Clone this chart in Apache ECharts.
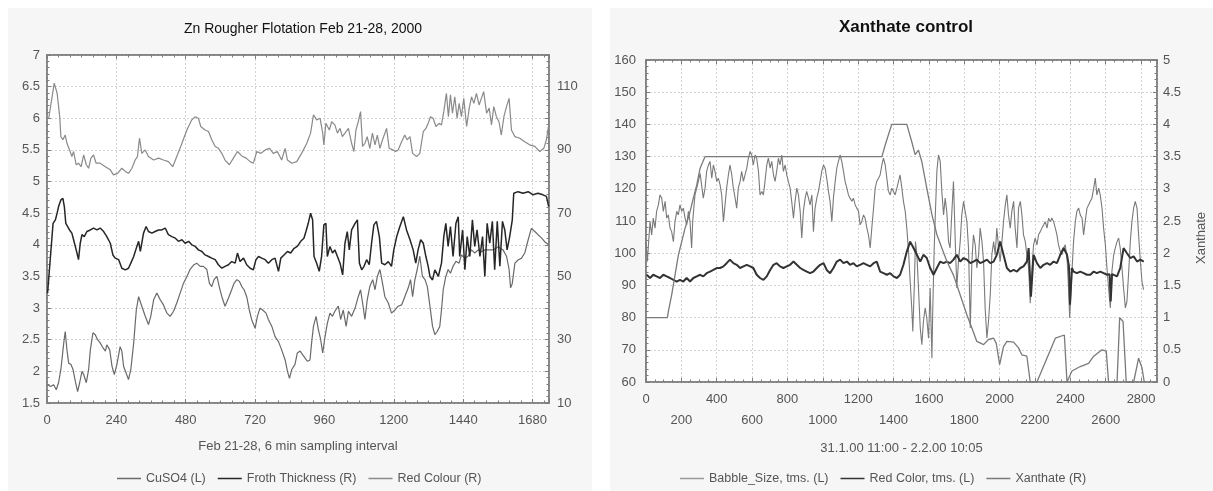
<!DOCTYPE html>
<html><head><meta charset="utf-8">
<script src="https://cdn.jsdelivr.net/npm/echarts@6/dist/echarts.min.js"></script>
<style>html,body{margin:0;padding:0;background:#fff}#c{width:1213px;height:491px}</style>
</head><body><div id="c"></div>
<script>
// ---------- texts ----------
const leftTitle = 'Zn Rougher Flotation Feb 21-28, 2000';
const rightTitle = 'Xanthate control';
const leftXName = 'Feb 21-28, 6 min sampling interval';
const rightXName = '31.1.00 11:00 - 2.2.00 10:05';
const rightYName = 'Xanthate';
const leftNames = ['CuSO4 (L)', 'Froth Thickness (R)', 'Red Colour (R)'];
const rightNames = ['Babble_Size, tms. (L)', 'Red Color, tms. (L)', 'Xanthate (R)'];

// ---------- left chart data: [sample, value] ----------
const cuso4L = [[2,1.79],[12,1.76],[23,1.79],[32,1.71],[40,1.82],[48,2.03],[58,2.45],[63,2.63],[69,2.34],[75,2.13],[83,2.11],[90,2.03],[98,1.84],[106,1.68],[113,1.82],[121,2.00],[127,1.95],[136,1.82],[144,2.03],[150,2.34],[159,2.61],[167,2.58],[175,2.50],[184,2.45],[194,2.37],[202,2.32],[207,2.42],[217,2.34],[225,2.08],[233,1.95],[242,2.11],[253,2.39],[259,2.32],[265,2.08],[274,1.97],[282,1.87],[290,2.03],[300,2.45],[309,2.97],[317,3.18],[328,3.03],[340,2.87],[351,2.74],[359,2.87],[369,3.13],[380,3.24],[392,3.13],[403,3.05],[415,2.92],[426,2.87],[438,2.95],[449,3.08],[461,3.24],[472,3.39],[484,3.50],[495,3.61],[507,3.68],[518,3.71],[530,3.66],[541,3.66],[553,3.61],[562,3.39],[570,3.34],[578,3.45],[588,3.50],[597,3.32],[605,3.18],[616,3.03],[628,3.16],[639,3.29],[647,3.39],[657,3.45],[666,3.42],[674,3.34],[682,3.29],[691,3.18],[700,2.97],[708,2.82],[720,2.68],[728,2.87],[737,3.00],[746,2.97],[758,2.92],[766,2.82],[778,2.71],[789,2.55],[801,2.47],[812,2.34],[824,2.18],[832,2.00],[839,1.89],[847,2.03],[858,2.11],[866,2.29],[876,2.32],[885,2.26],[893,2.21],[901,2.16],[910,2.18],[916,2.47],[922,2.71],[931,2.87],[939,2.66],[947,2.50],[954,2.29],[962,2.55],[970,2.76],[979,2.92],[988,2.87],[996,2.95],[1008,3.03],[1016,2.82],[1025,2.97],[1035,2.71],[1043,2.95],[1054,2.87],[1066,3.00],[1077,3.18],[1085,3.29],[1092,3.08],[1100,2.82],[1108,3.13],[1117,3.34],[1127,3.45],[1135,3.29],[1143,3.50],[1152,3.61],[1161,3.39],[1169,3.18],[1181,3.08],[1192,2.92],[1204,2.97],[1215,3.03],[1227,3.05],[1238,3.18],[1250,3.32],[1258,3.45],[1265,3.18],[1273,3.45],[1281,3.61],[1290,3.82],[1299,3.50],[1308,3.45],[1316,3.34],[1325,3.03],[1334,2.71],[1342,2.58],[1350,2.63],[1359,2.71],[1365,2.97],[1371,3.29],[1380,3.50],[1388,3.61],[1396,3.55],[1405,3.66],[1415,3.74],[1426,3.71],[1434,3.84],[1446,3.79],[1457,3.82],[1469,3.92],[1480,3.87],[1492,3.92],[1503,3.89],[1515,3.92],[1526,3.92],[1544,3.92],[1561,3.97],[1578,3.92],[1590,3.82],[1599,3.61],[1604,3.32],[1610,3.39],[1619,3.71],[1630,3.76],[1642,3.79],[1653,3.87],[1665,4.08],[1676,4.26],[1688,4.21],[1699,4.16],[1711,4.11],[1722,4.05],[1736,4.00]];

const frothR = [[2,44.7],[21,66.8],[29,67.9],[35,70.0],[40,72.1],[48,74.2],[55,74.7],[60,72.1],[65,66.8],[71,66.3],[78,64.7],[86,63.7],[92,61.6],[101,58.4],[109,55.3],[115,60.5],[121,63.2],[129,62.6],[138,64.2],[150,64.7],[161,65.3],[173,64.7],[184,65.3],[196,64.2],[207,62.6],[219,60.5],[228,56.8],[236,55.8],[248,55.3],[259,52.6],[271,52.1],[282,52.6],[290,54.2],[300,56.3],[311,59.5],[317,61.1],[323,57.9],[334,63.7],[343,65.8],[351,64.2],[363,63.7],[374,64.2],[386,64.7],[397,64.7],[409,65.3],[420,63.2],[432,62.6],[444,62.1],[455,61.1],[467,61.6],[478,60.5],[490,61.1],[501,60.0],[513,59.5],[524,58.4],[536,57.9],[547,56.8],[559,56.3],[570,55.8],[582,55.3],[593,53.7],[605,52.6],[616,53.2],[628,53.7],[639,54.7],[651,54.2],[659,57.4],[668,54.7],[680,55.8],[691,53.7],[703,52.6],[714,52.1],[723,55.3],[732,56.3],[743,55.8],[755,55.3],[766,54.2],[778,55.3],[789,55.8],[801,51.6],[809,55.8],[820,56.8],[832,57.9],[843,57.4],[855,58.9],[866,59.5],[878,61.1],[889,62.1],[896,64.2],[904,66.8],[912,70.0],[919,67.9],[924,56.3],[933,54.2],[942,51.6],[950,56.3],[958,66.3],[965,66.8],[970,56.3],[979,59.5],[988,57.4],[996,58.4],[1005,56.3],[1014,54.2],[1023,50.5],[1031,60.5],[1039,64.2],[1046,58.4],[1054,64.7],[1066,66.8],[1074,67.9],[1081,54.2],[1089,52.1],[1097,53.2],[1106,55.3],[1115,53.7],[1123,60.5],[1131,66.3],[1140,67.4],[1150,62.6],[1158,54.2],[1169,53.7],[1181,54.7],[1192,53.2],[1200,58.4],[1210,62.6],[1221,65.8],[1233,68.9],[1244,64.7],[1256,61.6],[1267,58.4],[1276,54.2],[1284,58.4],[1293,61.6],[1302,60.5],[1311,56.3],[1319,53.2],[1325,50.0],[1334,48.9],[1342,52.1],[1354,50.0],[1365,54.2],[1373,62.6],[1380,66.8],[1388,59.5],[1396,65.8],[1405,56.3],[1415,66.8],[1423,68.9],[1428,56.3],[1438,64.7],[1446,52.1],[1454,62.6],[1463,56.3],[1472,67.9],[1480,59.5],[1488,64.7],[1498,56.3],[1507,62.6],[1515,50.0],[1523,66.8],[1532,60.5],[1541,67.4],[1549,52.1],[1558,67.4],[1567,53.2],[1576,67.4],[1584,64.7],[1592,58.4],[1601,62.6],[1610,67.9],[1615,76.3],[1630,76.8],[1647,76.3],[1665,76.8],[1682,75.8],[1699,76.3],[1716,75.8],[1728,75.3],[1736,72.1]];

const redColourR = [[6,100.0],[25,111.1],[35,107.9],[44,100.5],[48,94.2],[55,93.2],[63,94.7],[69,92.1],[78,90.0],[86,87.9],[92,89.5],[101,85.3],[109,85.8],[118,84.7],[127,88.4],[136,85.3],[144,84.2],[152,87.4],[161,88.4],[170,85.8],[184,85.8],[202,84.7],[219,83.7],[230,82.1],[244,82.6],[259,84.2],[271,83.2],[282,82.6],[294,84.2],[305,86.8],[313,87.9],[320,93.7],[328,88.9],[340,90.0],[351,87.9],[369,86.8],[386,87.4],[403,86.8],[420,86.3],[435,84.7],[449,87.9],[467,92.1],[484,96.3],[501,99.5],[513,100.5],[524,100.0],[532,97.4],[547,96.3],[559,95.8],[570,93.2],[582,91.1],[593,90.5],[605,88.9],[616,86.8],[631,85.3],[645,87.4],[659,89.5],[674,88.1],[689,87.4],[703,86.3],[714,85.8],[726,89.5],[740,88.9],[755,90.0],[770,90.5],[783,88.9],[797,89.5],[812,86.8],[824,90.5],[832,86.8],[847,85.8],[864,86.3],[881,88.9],[899,92.1],[912,95.3],[922,101.1],[933,99.5],[945,100.0],[954,95.3],[958,91.6],[965,98.4],[977,96.3],[985,98.9],[996,97.9],[1005,95.3],[1014,96.8],[1022,94.2],[1031,95.3],[1043,96.8],[1054,92.1],[1062,89.5],[1069,96.3],[1077,98.9],[1085,102.1],[1092,91.1],[1100,92.1],[1108,94.2],[1117,90.5],[1126,95.3],[1135,91.6],[1143,94.7],[1152,90.5],[1161,93.2],[1175,96.8],[1184,90.5],[1196,90.0],[1207,89.5],[1215,90.0],[1227,92.6],[1238,94.7],[1246,93.2],[1256,94.2],[1265,88.9],[1279,87.9],[1290,88.9],[1302,95.8],[1311,96.8],[1319,98.4],[1327,100.5],[1336,100.0],[1346,97.4],[1357,98.4],[1365,97.9],[1373,102.1],[1382,107.9],[1389,100.5],[1396,107.4],[1403,101.6],[1411,106.8],[1419,100.0],[1426,104.7],[1434,100.5],[1442,106.3],[1452,97.4],[1461,103.2],[1469,106.8],[1477,104.7],[1486,107.9],[1495,104.2],[1503,106.3],[1511,108.4],[1521,101.6],[1530,103.2],[1538,97.9],[1546,103.7],[1555,100.5],[1564,98.9],[1572,94.7],[1581,100.5],[1590,103.7],[1599,106.3],[1607,96.3],[1619,94.2],[1636,93.7],[1653,92.6],[1670,91.6],[1688,91.1],[1705,89.5],[1719,90.5],[1728,93.2],[1736,97.9]];

// ---------- right chart data: [sample, value] ----------
const bubbleL = [[0,103.6],[8,97.4],[15,103.6],[23,109.8],[32,105.7],[41,110.9],[51,107.8],[60,113.0],[70,115.0],[79,118.1],[89,117.1],[98,113.0],[108,116.1],[117,110.9],[126,111.9],[136,107.8],[145,106.7],[155,103.6],[164,109.8],[174,113.0],[183,111.9],[192,115.0],[202,113.0],[211,114.0],[221,110.9],[230,108.8],[240,113.0],[249,109.8],[258,101.6],[264,109.8],[272,115.0],[277,118.1],[287,120.2],[296,122.3],[306,124.8],[315,124.3],[324,117.1],[334,120.2],[343,125.4],[353,127.4],[362,128.5],[372,123.3],[381,127.4],[390,125.4],[400,122.3],[409,123.3],[419,121.2],[428,118.1],[438,109.8],[447,115.0],[456,120.2],[466,124.3],[475,127.4],[485,124.3],[494,120.2],[504,117.1],[513,114.0],[522,120.2],[532,122.3],[541,125.4],[551,122.3],[560,124.3],[570,126.4],[579,129.5],[589,131.6],[598,130.5],[607,127.4],[617,130.5],[626,129.5],[636,125.4],[645,118.1],[655,119.2],[664,118.1],[673,122.3],[683,127.4],[692,129.5],[702,126.4],[711,128.5],[721,124.3],[730,122.3],[739,125.4],[749,129.5],[758,127.4],[768,130.5],[777,125.4],[787,127.4],[796,124.3],[805,122.3],[815,120.2],[824,116.1],[834,110.9],[843,116.1],[853,120.2],[862,118.1],[872,113.0],[881,104.7],[890,113.0],[900,117.1],[909,119.2],[919,117.1],[928,115.0],[938,118.1],[947,106.7],[956,114.0],[966,117.1],[975,119.2],[985,122.3],[994,125.4],[1004,127.4],[1013,126.4],[1022,123.3],[1032,119.2],[1041,116.1],[1051,109.8],[1060,117.1],[1070,122.3],[1079,126.4],[1088,128.5],[1098,130.5],[1107,128.5],[1117,125.4],[1126,122.3],[1136,120.2],[1145,118.1],[1154,117.1],[1164,116.1],[1173,117.1],[1183,115.0],[1192,114.0],[1202,113.0],[1211,108.8],[1220,109.8],[1230,111.9],[1239,110.9],[1249,107.8],[1258,105.7],[1268,101.6],[1277,107.8],[1287,114.0],[1296,120.2],[1305,122.3],[1315,123.3],[1324,124.3],[1334,127.4],[1343,129.5],[1353,127.4],[1362,123.3],[1371,119.2],[1381,118.1],[1390,120.2],[1400,119.2],[1409,118.1],[1419,120.2],[1428,122.3],[1437,124.3],[1447,120.2],[1456,116.1],[1466,113.0],[1475,107.8],[1485,100.5],[1494,91.2],[1503,83.0],[1509,75.7],[1517,89.2],[1524,103.6],[1532,99.5],[1541,89.2],[1551,76.8],[1560,71.6],[1569,78.8],[1579,83.0],[1588,79.8],[1598,73.6],[1607,89.2],[1617,67.4],[1622,83.0],[1630,101.6],[1637,113.0],[1645,125.4],[1654,130.5],[1664,128.5],[1673,119.2],[1683,111.9],[1692,117.1],[1701,113.0],[1711,103.6],[1720,101.6],[1730,113.0],[1739,122.3],[1749,103.6],[1758,89.2],[1767,97.4],[1777,103.6],[1786,111.9],[1796,116.1],[1805,113.0],[1815,109.8],[1824,101.6],[1834,76.8],[1843,97.4],[1852,105.7],[1862,102.6],[1871,95.4],[1881,99.5],[1890,107.8],[1900,103.6],[1909,97.4],[1918,83.0],[1928,73.7],[1937,78.8],[1947,87.1],[1956,99.5],[1966,103.6],[1975,99.5],[1984,107.8],[1994,101.6],[2003,97.4],[2013,103.6],[2022,109.8],[2032,115.0],[2041,118.1],[2050,111.9],[2060,107.8],[2069,113.0],[2079,116.1],[2088,107.8],[2098,101.6],[2107,114.0],[2117,116.1],[2126,111.9],[2135,105.7],[2145,103.6],[2154,99.5],[2164,95.4],[2173,84.5],[2183,95.4],[2192,102.6],[2201,104.7],[2211,102.6],[2220,105.7],[2230,106.7],[2239,107.8],[2249,108.8],[2258,109.8],[2268,107.8],[2277,110.9],[2286,109.8],[2296,110.9],[2305,109.8],[2315,107.8],[2324,105.7],[2333,102.6],[2343,100.5],[2352,99.5],[2362,101.6],[2371,102.6],[2381,98.5],[2390,89.2],[2396,79.9],[2409,94.3],[2418,103.6],[2428,109.8],[2437,113.0],[2447,114.0],[2456,111.9],[2466,110.9],[2475,105.7],[2484,109.8],[2494,114.0],[2503,115.0],[2513,116.1],[2522,117.1],[2532,120.2],[2541,123.3],[2550,118.1],[2560,120.2],[2569,118.1],[2579,114.0],[2588,107.8],[2598,102.6],[2607,95.4],[2616,89.2],[2626,83.0],[2635,94.3],[2645,99.5],[2654,101.6],[2664,103.6],[2673,104.7],[2682,101.6],[2692,95.4],[2701,89.2],[2711,83.0],[2720,85.0],[2730,94.3],[2739,103.6],[2748,109.8],[2758,114.0],[2767,116.1],[2777,114.0],[2786,105.7],[2796,97.4],[2805,91.2],[2814,88.7]];

const redColorL = [[4,93.3],[23,92.3],[41,93.3],[60,92.8],[79,92.3],[98,93.3],[117,92.8],[136,92.3],[155,91.7],[174,91.2],[192,91.7],[211,91.2],[230,92.3],[249,91.2],[268,92.3],[287,92.8],[306,93.3],[324,92.8],[343,93.8],[362,94.3],[381,94.8],[400,95.4],[419,95.4],[438,95.9],[456,96.9],[475,98.0],[494,96.9],[513,96.4],[532,95.4],[551,95.9],[570,96.4],[589,95.9],[607,95.4],[626,93.3],[645,92.3],[664,91.7],[683,92.8],[702,94.8],[721,96.4],[739,96.9],[758,95.9],[777,95.4],[796,95.9],[815,96.4],[834,97.4],[853,96.4],[872,95.4],[890,94.8],[909,94.3],[928,93.8],[947,94.3],[966,95.4],[985,96.4],[1004,96.9],[1022,94.8],[1041,93.8],[1060,95.4],[1079,97.4],[1098,98.0],[1117,96.9],[1136,97.4],[1154,96.4],[1173,96.9],[1192,95.9],[1211,96.4],[1230,96.9],[1249,96.4],[1268,95.9],[1287,96.9],[1305,97.4],[1324,94.3],[1343,93.8],[1362,93.3],[1381,93.8],[1400,92.8],[1419,92.3],[1437,93.3],[1456,96.4],[1475,100.5],[1494,103.6],[1513,101.6],[1532,99.5],[1551,97.4],[1569,99.5],[1588,98.5],[1607,95.4],[1626,93.3],[1645,95.4],[1664,97.4],[1683,96.9],[1701,97.4],[1720,96.9],[1739,98.0],[1758,99.5],[1777,97.4],[1796,98.5],[1815,98.0],[1834,96.9],[1852,97.4],[1871,98.0],[1890,96.9],[1909,97.4],[1928,98.0],[1947,96.9],[1966,97.4],[1984,99.5],[2003,103.6],[2022,99.5],[2041,95.4],[2060,94.3],[2079,94.8],[2098,94.3],[2117,95.4],[2135,95.9],[2154,97.4],[2164,101.6],[2177,86.5],[2192,99.5],[2211,96.9],[2230,95.4],[2249,96.4],[2268,96.9],[2286,96.4],[2305,97.4],[2324,96.9],[2343,99.5],[2362,101.6],[2381,99.5],[2392,96.0],[2398,84.0],[2409,95.4],[2418,94.3],[2437,93.8],[2456,94.3],[2475,93.8],[2494,93.3],[2513,93.3],[2532,94.3],[2550,93.8],[2569,94.3],[2588,93.8],[2607,93.3],[2622,93.5],[2628,85.0],[2636,93.5],[2645,93.3],[2664,92.8],[2682,95.4],[2701,101.6],[2720,100.0],[2739,98.5],[2758,99.0],[2777,97.4],[2796,98.0],[2815,97.4]];

const xanthateR = [[0,1.0],[121,1.0],[126,1.09],[145,1.35],[164,1.66],[183,1.97],[202,2.18],[221,2.39],[245,2.60],[268,2.86],[287,3.06],[306,3.32],[334,3.5],[1334,3.5],[1353,3.68],[1371,3.84],[1390,4.0],[1475,4.0],[1503,3.73],[1522,3.53],[1541,3.60],[1560,3.42],[1588,3.01],[1617,2.60],[1645,2.29],[1673,2.08],[1702,1.87],[1739,1.66],[1777,1.35],[1815,1.04],[1843,0.84],[1871,0.63],[1909,0.58],[1937,0.66],[1966,0.68],[1981,0.60],[2000,0.27],[2022,0.55],[2041,0.63],[2079,0.62],[2107,0.53],[2126,0.42],[2154,0.40],[2173,0.0],[2211,0.0],[2315,0.68],[2366,0.73],[2381,0.0],[2409,0.17],[2456,0.24],[2503,0.29],[2532,0.40],[2579,0.50],[2603,0.48],[2616,0.0],[2664,0.0],[2679,1.0],[2698,0.94],[2716,0.0],[2758,0.0],[2786,0.37],[2805,0.22],[2818,0.0]];

// ---------- styling helpers ----------
const FONT = '"Liberation Sans", Arial, sans-serif';
const AX = '#7d7d7d';
const LBL = { color: '#555', fontSize: 13, fontFamily: FONT };

function axis(base) {
  const a = {
    type: 'value',
    axisLine: { show: true, onZero: false, lineStyle: { color: AX, width: 1.5 } },
    axisTick: { show: true, inside: true, length: 4, lineStyle: { color: AX, width: 1 } },
    minorTick: { show: true, inside: true, splitNumber: base.minor || 5, length: 2.5, lineStyle: { color: AX, width: 1 } },
    splitLine: { show: !!base.split, lineStyle: { color: '#d2d2d2', width: 1, type: [2, 2] } },
    axisLabel: Object.assign({ show: base.label !== false, margin: base.margin || 8 }, LBL, base.labelExtra || {})
  };
  delete base.minor; delete base.split; delete base.label; delete base.margin; delete base.labelExtra;
  return Object.assign(a, base);
}

const legendBase = { itemWidth: 24, itemHeight: 1.5, itemGap: 12, icon: 'rect', selectedMode: false,
  textStyle: { color: '#555', fontSize: 12.5, fontFamily: FONT } };

const option = {
  animation: false,
  backgroundColor: '#ffffff',
  graphic: [
    { type: 'rect', z: -100, silent: true, shape: { x: 8, y: 8, width: 584, height: 483 }, style: { fill: '#f6f6f6' } },
    { type: 'rect', z: -100, silent: true, shape: { x: 610, y: 8, width: 603, height: 483 }, style: { fill: '#f6f6f6' } }
  ],
  title: [
    { text: leftTitle, left: 298, top: 17, textAlign: 'center',
      textStyle: { fontSize: 14, fontWeight: 'normal', color: '#111', fontFamily: FONT } },
    { text: rightTitle, left: 901, top: 14, textAlign: 'center',
      textStyle: { fontSize: 17, fontWeight: 'bold', color: '#111', fontFamily: FONT } }
  ],
  legend: [
    Object.assign({ data: leftNames, left: 112, top: 467 }, legendBase),
    Object.assign({ data: rightNames, left: 675, top: 467 }, legendBase)
  ],
  grid: [
    { left: 47, top: 55, width: 502, height: 348, show: true, backgroundColor: '#fff', borderColor: AX, borderWidth: 1.5 },
    { left: 646, top: 60, width: 511, height: 322, show: true, backgroundColor: '#fff', borderColor: AX, borderWidth: 1.5 }
  ],
  xAxis: [
    axis({ gridIndex: 0, position: 'bottom', min: 0, max: 1737, interval: 240, minor: 6, split: true, margin: 11,
      name: leftXName, nameLocation: 'middle', nameGap: 37, nameTextStyle: LBL,
      labelExtra: { formatter: v => (v % 240 === 0 ? String(v) : '') } }),
    axis({ gridIndex: 0, position: 'top', min: 0, max: 1737, interval: 240, minor: 6, label: false }),
    axis({ gridIndex: 1, position: 'bottom', min: 0, max: 2890, interval: 200, minor: 4, split: true, margin: 7,
      name: rightXName, nameLocation: 'middle', nameGap: 60, nameTextStyle: LBL,
      labelExtra: { lineHeight: 21, formatter: v => (v % 200 !== 0 ? '' : (v % 400 === 0 ? String(v) : '\n' + v)) } }),
    axis({ gridIndex: 1, position: 'top', min: 0, max: 2890, interval: 200, minor: 4, label: false })
  ],
  yAxis: [
    axis({ gridIndex: 0, position: 'left', min: 1.5, max: 7, interval: 0.5, minor: 5, split: true, margin: 7 }),
    axis({ gridIndex: 0, position: 'right', min: 10, max: 120, interval: 10, minor: 5, margin: 8,
      labelExtra: { formatter: v => ((v - 10) % 20 === 0 && v < 120 ? String(v) : '') } }),
    axis({ gridIndex: 1, position: 'left', min: 60, max: 160, interval: 10, minor: 5, split: true, margin: 10 }),
    axis({ gridIndex: 1, position: 'right', min: 0, max: 5, interval: 0.5, minor: 5, margin: 6,
      name: rightYName, nameLocation: 'middle', nameGap: 38,
      nameTextStyle: Object.assign({ padding: [0, 34, 0, 0] }, LBL) })
  ],
  series: [
    { name: leftNames[2], type: 'line', xAxisIndex: 0, yAxisIndex: 1, data: redColourR, symbol: 'none',
      lineStyle: { color: '#8a8a8a', width: 1.2 }, itemStyle: { color: '#8a8a8a' } },
    { name: leftNames[0], type: 'line', xAxisIndex: 0, yAxisIndex: 0, data: cuso4L, symbol: 'none',
      lineStyle: { color: '#6a6a6a', width: 1.2 }, itemStyle: { color: '#6a6a6a' } },
    { name: leftNames[1], type: 'line', xAxisIndex: 0, yAxisIndex: 1, data: frothR, symbol: 'none',
      lineStyle: { color: '#262626', width: 1.5 }, itemStyle: { color: '#262626' } },
    { name: rightNames[0], type: 'line', xAxisIndex: 2, yAxisIndex: 2, data: bubbleL, symbol: 'none',
      lineStyle: { color: '#7a7a7a', width: 1.1 }, itemStyle: { color: '#9a9a9a' } },
    { name: rightNames[1], type: 'line', xAxisIndex: 2, yAxisIndex: 2, data: redColorL, symbol: 'none',
      lineStyle: { color: '#333333', width: 2 }, itemStyle: { color: '#333333' } },
    { name: rightNames[2], type: 'line', xAxisIndex: 2, yAxisIndex: 3, data: xanthateR, symbol: 'none',
      lineStyle: { color: '#7a7a7a', width: 1.3 }, itemStyle: { color: '#7a7a7a' } }
  ]
};

const chart = echarts.init(document.getElementById('c'), null, { renderer: 'canvas' });
chart.setOption(option);
</script></body></html>
